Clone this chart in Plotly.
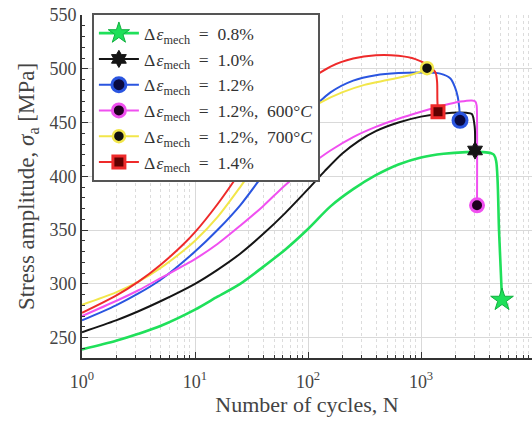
import plotly.graph_objects as go

# Cycles (N) and stress amplitude (MPa) for each mechanical strain range
n_08 = [1, 2, 3.16, 5, 10, 15.8, 25.1, 39.8, 63.1, 100, 158, 251, 398, 631, 1000, 1585, 2512, 3548, 4169, 4416, 4624, 4764, 4898, 5210]
s_08 = [239, 247, 253.5, 261, 276, 288, 300, 315.5, 332, 351, 372, 388, 401, 411, 417.5, 421, 422.5, 422.5, 421.5, 420, 414, 395, 350, 285]

n_10 = [1, 2, 3.16, 5, 10, 15.8, 25.1, 39.8, 63.1, 100, 141, 200, 282, 398, 631, 1000, 1585, 2512, 2818, 2985, 3006]
s_10 = [255, 266, 274.5, 284, 300, 313, 328, 346, 366, 388, 405, 421, 433, 442, 450, 455.5, 458.5, 459, 458, 446, 424]

n_12 = [1, 2, 3.16, 5, 10, 15.8, 25.1, 39.8, 63.1, 100, 158, 251, 398, 631, 1000, 1479, 1820, 1995, 2113, 2178, 2213]
s_12 = [266, 280, 291, 304, 330, 350, 373, 401, 430, 458, 478, 489, 494, 496, 496.5, 495.5, 491, 483, 474, 464, 452]

n_12_600 = [1, 2, 3.16, 5, 10, 15.8, 25.1, 39.8, 63.1, 100, 158, 251, 398, 631, 1000, 1585, 2239, 2818, 3020, 3105, 3130, 3130]
s_12_600 = [270, 284, 294, 305.5, 323, 337, 354, 372, 392, 409, 424, 436.5, 446, 453.5, 460, 466, 469.5, 470.5, 469.5, 466, 455, 373]

n_12_700 = [1, 2, 3.16, 5, 7.94, 10, 15.8, 25.1, 31.6, 50.1, 79.4, 126, 200, 316, 501, 794, 1000, 1130]
s_12_700 = [280.5, 292, 302, 315, 331, 340, 362, 390, 405, 433, 454, 468, 478, 485, 489.5, 494, 497.5, 500.5]

n_14 = [1, 2, 3.16, 5, 7.94, 10, 15.8, 25.1, 39.8, 63.1, 100, 158, 251, 398, 631, 891, 1122, 1259, 1349, 1387, 1396, 1413]
s_14 = [273, 289, 302, 318, 337, 348, 374, 404, 436, 466, 488, 502, 509.5, 512.5, 512, 509, 504, 500, 496, 488, 470, 460]

x_tickvals = [1, 10, 100, 1000]
x_ticktext = ["10<sup>0</sup>", "10<sup>1</sup>", "10<sup>2</sup>", "10<sup>3</sup>"]
y_tickvals = [250, 300, 350, 400, 450, 500, 550]

EQ = "\u2002=\u2002"
DE = "Δ\u200a<i>ε</i><sub>mech</sub>"
labels = [
    DE + EQ + "0.8%",
    DE + EQ + "1.0%",
    DE + EQ + "1.2%",
    DE + EQ + "1.2%,\u2002600°<i>C</i>",
    DE + EQ + "1.2%,\u2002700°<i>C</i>",
    DE + EQ + "1.4%",
]

series = [
    (n_08, s_08, "#1fe05a", dict(symbol="star", size=17, color="#1fe05a", line=dict(color="#12b040", width=1)), 2.6),
    (n_10, s_10, "#151515", dict(symbol="hexagram", size=13, color="#151515", line=dict(color="#151515", width=1)), 2.0),
    (n_12, s_12, "#2a55e0", dict(symbol="circle", size=14, color="#0a0a40", line=dict(color="#2a55e0", width=3)), 2.0),
    (n_12_600, s_12_600, "#f050f0", dict(symbol="circle", size=13, color="#200020", line=dict(color="#f050f0", width=3)), 2.0),
    (n_12_700, s_12_700, "#f2e64a", dict(symbol="circle", size=12, color="#101010", line=dict(color="#f2e64a", width=2.5)), 2.0),
    (n_14, s_14, "#ee2a2a", dict(symbol="square", size=12, color="#600000", line=dict(color="#ee2a2a", width=3)), 2.0),
]

fig = go.Figure()

# curves first, without legend entries
for (nx, sy, col, mk, lw), lab in zip(series, labels):
    fig.add_trace(go.Scatter(
        x=nx, y=sy, mode="lines", showlegend=False, hoverinfo="skip",
        line=dict(color=col, width=lw, shape="spline", smoothing=0.8),
    ))

# end-of-life markers, which also carry the legend entries
for (nx, sy, col, mk, lw), lab in zip(series, labels):
    fig.add_trace(go.Scatter(
        x=[nx[-1]], y=[sy[-1]], mode="lines+markers", name=lab,
        line=dict(color=col, width=lw), marker=mk,
    ))

serif = "Liberation Serif"

fig.update_layout(
    width=532, height=421,
    margin=dict(l=82, r=0, t=15, b=63),
    paper_bgcolor="white", plot_bgcolor="white",
    font=dict(family=serif, size=16, color="#333333"),
    showlegend=True,
    legend=dict(
        x=0.022, y=1.005, xanchor="left", yanchor="top",
        bgcolor="white", bordercolor="#555555", borderwidth=2,
        font=dict(family=serif, size=17.5, color="#333333"),
        tracegroupgap=0, itemwidth=40,
    ),
)

fig.update_xaxes(
    type="log", range=[0, 3.982], tickvals=x_tickvals, ticktext=x_ticktext,
    showgrid=True, gridcolor="#d9d9d9", gridwidth=1,
    minor=dict(showgrid=True, gridcolor="#dcdcdc", griddash="dot", ticks="inside",
               ticklen=3, tickcolor="#333333", dtick="D1"),
    ticks="inside", ticklen=6, tickcolor="#333333",
    showline=True, linecolor="#333333", linewidth=2,
    tickfont=dict(family=serif, size=18, color="#444444"),
    ticklabelstandoff=6,
    title=dict(text="Number of cycles, N", font=dict(family=serif, size=22, color="#444444"), standoff=2),
    zeroline=False, automargin=False,
)
fig.update_yaxes(
    range=[231, 550], tickvals=y_tickvals,
    showgrid=True, gridcolor="#d9d9d9", gridwidth=1,
    minor=dict(showgrid=False, ticks="inside", ticklen=3, tickcolor="#333333", dtick=10),
    ticks="inside", ticklen=6, tickcolor="#333333",
    showline=True, linecolor="#333333", linewidth=2,
    tickfont=dict(family=serif, size=18, color="#444444"),
    title=dict(text="Stress amplitude, <i>σ</i><sub>a</sub> [MPa]", font=dict(family=serif, size=23, color="#444444"), standoff=8),
    zeroline=False, automargin=False,
)

fig.write_html("out.html")
